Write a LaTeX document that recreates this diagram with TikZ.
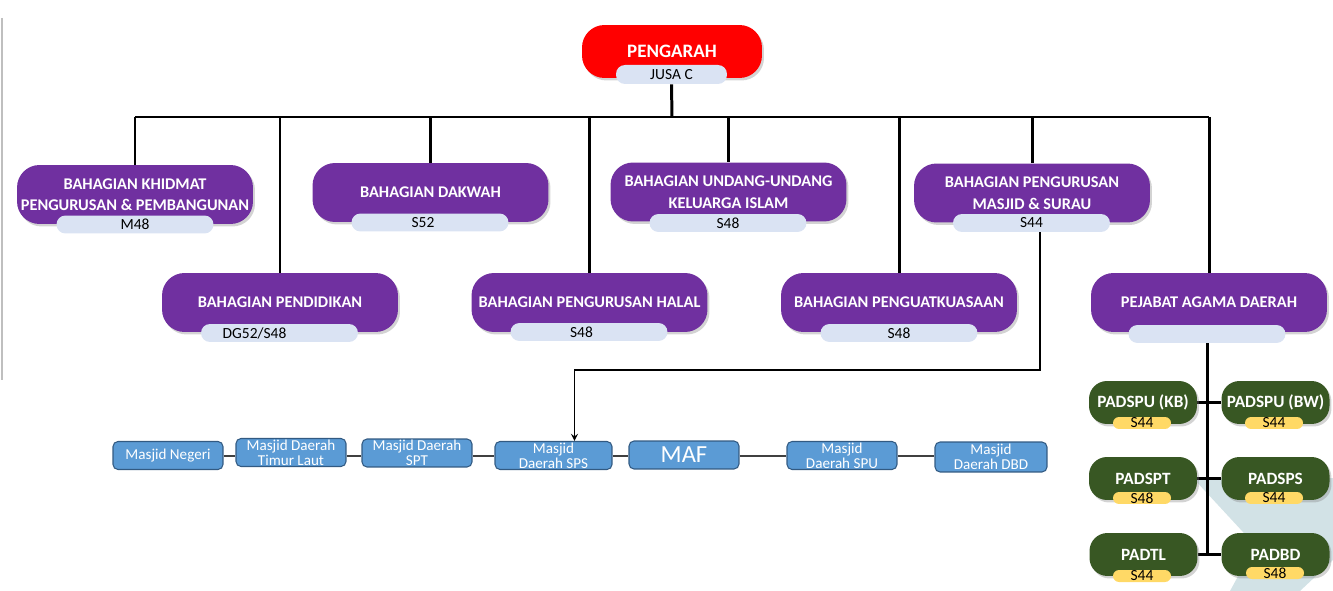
\documentclass[tikz,border=0pt]{standalone}
\usepackage{fontspec}
\setmainfont{Carlito}
\usepackage{tikz}
\usetikzlibrary{calc,arrows,backgrounds,shadows,positioning}
\definecolor{chiefred}{RGB}{255,0,0}
\definecolor{divpurple}{RGB}{112,48,160}
\definecolor{gradepale}{RGB}{218,227,243}
\definecolor{padgreen}{RGB}{56,87,35}
\definecolor{gradeyellow}{RGB}{255,217,102}
\definecolor{masjidblue}{RGB}{91,155,213}
\definecolor{masjidedge}{RGB}{50,90,130}
\definecolor{bgteal}{RGB}{210,226,230}

\begin{document}
\begin{tikzpicture}[x=0.02cm, y=-0.02cm]

\tikzset{
boxshadow/.style={drop shadow={shadow xshift=0.04cm,shadow yshift=-0.05cm,opacity=0.35}},
chief/.style={fill=chiefred,rounded corners=0.45cm,minimum width=3.6cm,minimum height=1.06cm,text=white,font=\fontsize{10.8}{12}\selectfont\bfseries,boxshadow},
bahagian/.style={fill=divpurple,rounded corners=0.45cm,minimum width=4.72cm,minimum height=1.18cm,text=white,align=center,inner sep=0pt,font=\fontsize{9.3}{12.2}\selectfont\bfseries,boxshadow},
gred/.style={fill=gradepale,rounded corners=0.18cm,minimum width=3.14cm,minimum height=0.36cm,inner sep=0pt,font=\fontsize{8.8}{9}\selectfont},
pad/.style={fill=padgreen,rounded corners=0.36cm,minimum width=2.16cm,minimum height=0.86cm,text=white,inner sep=0pt,font=\fontsize{9.8}{11}\selectfont\bfseries,boxshadow},
padgred/.style={fill=gradeyellow,rounded corners=0.12cm,minimum width=1.16cm,minimum height=0.24cm,inner sep=0pt,font=\fontsize{8.8}{9}\selectfont},
masjid/.style={fill=masjidblue,draw=masjidedge,line width=0.6pt,rounded corners=0.1cm,minimum width=2.2cm,minimum height=0.56cm,text=white,align=center,inner sep=0pt,font=\fontsize{8.6}{8.6}\selectfont},
orgline/.style={line width=1.7pt,black},
rowline/.style={line width=0.7pt,black!75},
pointer/.style={->,>=stealth,line width=0.8pt}
}

\useasboundingbox (0,0) rectangle (1333,591);

% Nodes
\node[chief] (pengarah) at (672,51.5) {PENGARAH};
\node[gred,minimum width=2.22cm,minimum height=0.38cm] (jusa) at (671.5,74.5) {JUSA C};

\node[bahagian] (khidmat) at (135,194.5) {BAHAGIAN KHIDMAT\\PENGURUSAN \& PEMBANGUNAN};
\node[gred] (khidmatgred) at (135,224.5) {M48};
\node[bahagian] (dakwah) at (430.5,192.5) {BAHAGIAN DAKWAH};
\node[gred] (dakwahgred) at (430,222.5) {S52\hspace*{0.28cm}};
\node[bahagian] (undang) at (728.5,192) {BAHAGIAN UNDANG-UNDANG\\KELUARGA ISLAM};
\node[gred] (undanggred) at (728,223) {S48};
\node[bahagian] (pengurusan) at (1032,193) {BAHAGIAN PENGURUSAN\\MASJID \& SURAU};
\node[gred] (pengurusangred) at (1031.5,223) {S44};

\node[bahagian] (pendidikan) at (280,302.5) {BAHAGIAN PENDIDIKAN};
\node[gred] (pendidikangred) at (279.5,333) {DG52/S48\hspace*{1cm}};
\node[bahagian] (halal) at (589.5,302.5) {BAHAGIAN PENGURUSAN HALAL};
\node[gred] (halalgred) at (589,332) {S48\hspace*{0.3cm}};
\node[bahagian] (penguat) at (899,302.5) {BAHAGIAN PENGUATKUASAAN};
\node[gred] (penguatgred) at (899,333) {S48};
\node[bahagian] (pejabat) at (1209,302.5) {PEJABAT AGAMA DAERAH};
\node[gred] (pejabatgred) at (1207,334) {};

\node[pad] (padspukb) at (1143,402.5) {PADSPU (KB)};
\node[padgred] (padspukbgred) at (1142,423) {S44};
\node[pad] (padspubw) at (1275.5,402.5) {PADSPU (BW)};
\node[padgred] (padspubwgred) at (1274,423) {S44};
\node[pad] (padspt) at (1143,478.5) {PADSPT};
\node[padgred] (padsptgred) at (1142,498) {S48};
\node[pad] (padsps) at (1275.5,478.5) {PADSPS};
\node[padgred] (padspsgred) at (1274,498) {S44};
\node[pad] (padtl) at (1143.5,554.5) {PADTL};
\node[padgred] (padtlgred) at (1142,576) {S44};
\node[pad] (padbd) at (1275.5,554.5) {PADBD};
\node[padgred] (padbdgred) at (1275,573) {S48};

\node[masjid] (negeri) at (168,455.5) {Masjid Negeri};
\node[masjid] (timurlaut) at (291,452.5) {Masjid Daerah\\Timur Laut};
\node[masjid] (spt) at (417,453) {Masjid Daerah\\SPT};
\node[masjid,minimum width=2.34cm] (sps) at (553.5,455.5) {Masjid\\Daerah SPS};
\node[masjid,font=\fontsize{14}{14}\selectfont] (maf) at (684,455) {MAF};
\node[masjid] (spu) at (842,455.5) {Masjid\\Daerah SPU};
\node[masjid,minimum width=2.24cm,minimum height=0.6cm] (dbd) at (991,457) {Masjid\\Daerah DBD};

\coordinate (bus) at (672,117);
\coordinate (row) at (600,456);
\coordinate (turn) at (1040,370);

% Lines
\begin{scope}[on background layer]
\fill[bgteal] (1193,478) -- (1333,478) -- (1333,560) -- (1300,591) -- (1230,591) -- (1255,545) -- cycle;
\draw[black!25,line width=0.6pt] (2,18) -- (2,380);

\draw[orgline] (jusa.south) -- (bus);
\draw[orgline] (khidmat.north |- bus) -- (pejabat.north |- bus);
\foreach \unit in {khidmat,dakwah,undang,pengurusan,pendidikan,halal,penguat,pejabat}
  \draw[orgline] (\unit.north |- bus) -- (\unit.north);

\draw[orgline] (pejabatgred.south) -- (pejabatgred.south |- padtl.east);
\draw[orgline] (padspukb.east) -- (padspubw.west);
\draw[orgline] (padspt.east) -- (padsps.west);
\draw[orgline] (padtl.east) -- (padbd.west);

\draw[rowline] (negeri.east |- row) -- (timurlaut.west |- row);
\draw[rowline] (timurlaut.east |- row) -- (spt.west |- row);
\draw[rowline] (spt.east |- row) -- (sps.west |- row);
\draw[rowline] (sps.east |- row) -- (maf.west |- row);
\draw[rowline] (maf.east |- row) -- (spu.west |- row);
\draw[rowline] (spu.east |- row) -- (dbd.west |- row);
\end{scope}

% Arrow
\draw[pointer] (pengurusangred.south -| turn) -- (turn) -| ([xshift=0.42cm]sps.north);

\end{tikzpicture}
\end{document}
